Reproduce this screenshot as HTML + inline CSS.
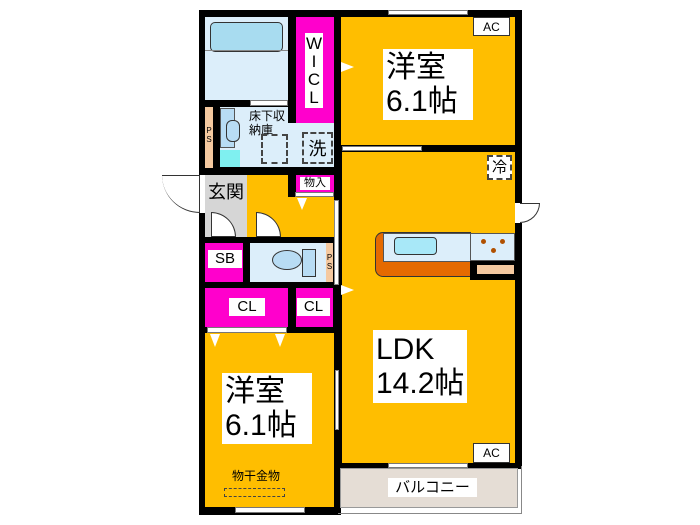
<!DOCTYPE html>
<html><head><meta charset="utf-8"><style>
body{margin:0;width:700px;height:525px;background:#fff;position:relative;overflow:hidden;font-family:"Liberation Sans","Noto Sans CJK JP",sans-serif}
div{position:absolute;box-sizing:border-box}
.o{background:#FFBE00}.p{background:#FF00CC}.b{background:#DCEEFA}.k{background:#000}
.l{background:#fff;color:#000;text-align:center}
</style></head><body>
<!-- walls base -->
<div class="k" style="left:199px;top:10px;width:323px;height:459px"></div>
<div class="k" style="left:199px;top:460px;width:142px;height:55px"></div>
<!-- bath -->
<div class="b" style="left:205px;top:17px;width:83px;height:83px"></div>
<div style="left:210px;top:22px;width:73px;height:30px;background:#a8dcf0;border:1.5px solid #333;border-radius:5px"></div>
<div style="left:205px;top:50px;width:83px;height:1px;background:#888"></div>
<div style="left:250px;top:100px;width:38px;height:6px;background:#fff;border:1px solid #777"></div>
<!-- WIC -->
<div class="p" style="left:296px;top:17px;width:38px;height:106px"></div>
<div class="l" style="left:305px;top:33px;width:18px;height:75px;font-size:17px;line-height:18px;padding-top:2px">W<br>I<br>C<br>L</div>
<!-- PS left -->
<div style="left:205px;top:107px;width:8px;height:61px;background:#f5c9a0"></div>
<div style="left:204px;top:126px;width:10px;font-size:8px;line-height:9px;text-align:center">P<br>S</div>
<!-- washroom -->
<div class="b" style="left:220px;top:107px;width:68px;height:60px"></div>
<div class="b" style="left:220px;top:123px;width:114px;height:44px"></div>
<div style="left:220px;top:108px;width:15px;height:40px;background:#b8dcf4;border:1px solid #555"></div>
<div style="left:226px;top:120px;width:14px;height:22px;background:#b8dcf4;border:1.5px solid #333;border-radius:6px"></div>
<div style="left:220px;top:150px;width:20px;height:17px;background:#7ff0f0"></div>
<div style="left:249px;top:109px;width:40px;font-size:12px;line-height:14px;color:#000">床下収<br>納庫</div>
<div style="left:261px;top:134px;width:27px;height:30px;border:2px dashed #444"></div>
<div style="left:302px;top:132px;width:31px;height:32px;border:2px dashed #444;background:#dceefa;font-size:18px;text-align:center;line-height:30px">洗</div>
<!-- genkan -->
<div style="left:205px;top:175px;width:42px;height:62px;background:#d6d6d6"></div>
<div style="left:198px;top:175px;width:7px;height:38px;background:#fff"></div>
<div style="left:162px;top:175px;width:38px;height:38px;border-top:1px solid #333;border-right:1px solid #333;border-bottom-left-radius:38px;border-left:0;background:#fff;border-bottom:1px solid #333;"></div>
<div class="l" style="left:208px;top:180px;width:36px;height:24px;background:#d6d6d6;font-size:18px;line-height:24px">玄関</div>
<div style="left:211px;top:212px;width:25px;height:25px;background:#fff;border:1px solid #333;border-top-right-radius:25px"></div>
<!-- hall -->
<div class="o" style="left:247px;top:175px;width:41px;height:62px"></div>
<div class="o" style="left:288px;top:197px;width:46px;height:40px"></div>
<div class="p" style="left:296px;top:175px;width:38px;height:17px"></div>
<div class="l" style="left:300px;top:177px;width:30px;height:13px;font-size:11px;line-height:13px">物入</div>
<div style="left:295px;top:192px;width:39px;height:5px;background:#fff;border:1px solid #777"></div>
<div style="left:297px;top:198px;width:0;height:0;border-left:5px solid transparent;border-right:5px solid transparent;border-top:12px solid #fff"></div>
<div style="left:256px;top:212px;width:25px;height:25px;background:#fff;border:1px solid #333;border-top-right-radius:25px"></div>
<div style="left:334px;top:200px;width:5px;height:85px;background:#fff;border:1px solid #888"></div>
<!-- SB, toilet -->
<div class="p" style="left:205px;top:243px;width:38px;height:39px"></div>
<div class="l" style="left:208px;top:250px;width:34px;height:18px;font-size:15px;line-height:18px">SB</div>
<div class="b" style="left:250px;top:243px;width:83px;height:39px"></div>
<div style="left:272px;top:250px;width:30px;height:20px;background:#b8dcf4;border:1.5px solid #333;border-radius:50%"></div>
<div style="left:302px;top:249px;width:14px;height:28px;background:#b8dcf4;border:1.5px solid #333"></div>
<div style="left:326px;top:243px;width:7px;height:39px;background:#f5c9a0;font-size:8px;line-height:9px;text-align:center;padding-top:10px">P<br>S</div>
<!-- CLs -->
<div class="p" style="left:205px;top:288px;width:83px;height:39px"></div>
<div class="l" style="left:229px;top:298px;width:36px;height:18px;font-size:15px;line-height:18px">CL</div>
<div class="p" style="left:296px;top:288px;width:37px;height:39px"></div>
<div class="l" style="left:297px;top:298px;width:33px;height:18px;font-size:15px;line-height:18px">CL</div>
<div style="left:207px;top:327px;width:80px;height:6px;background:#fff;border:1px solid #777"></div>
<!-- bedroom 2 -->
<div class="o" style="left:205px;top:333px;width:129px;height:174px"></div>
<div style="left:210px;top:334px;width:0;height:0;border-left:5px solid transparent;border-right:5px solid transparent;border-top:13px solid #fff"></div>
<div style="left:275px;top:334px;width:0;height:0;border-left:5px solid transparent;border-right:5px solid transparent;border-top:13px solid #fff"></div>
<div class="l" style="left:222px;top:373px;width:90px;height:71px;font-size:30px;line-height:34px;text-align:left;padding-left:3px;padding-top:2px">洋室<br>6.1帖</div>
<div class="l" style="left:228px;top:470px;width:56px;height:13px;background:#FFBE00;font-size:12px;line-height:13px">物干金物</div>
<div style="left:224px;top:488px;width:61px;height:9px;border:1.5px dashed #444"></div>
<div style="left:235px;top:507px;width:70px;height:6px;background:#fff;border:1px solid #777"></div>
<div style="left:335px;top:370px;width:4px;height:60px;background:#fff;border:1px solid #888"></div>
<!-- bedroom 1 -->
<div class="o" style="left:341px;top:17px;width:174px;height:128px"></div>
<div style="left:341px;top:62px;width:0;height:0;border-top:5px solid transparent;border-bottom:5px solid transparent;border-left:13px solid #fff"></div>
<div class="l" style="left:383px;top:49px;width:90px;height:71px;font-size:30px;line-height:34px;text-align:left;padding-left:3px;padding-top:2px">洋室<br>6.1帖</div>
<div class="l" style="left:473px;top:17px;width:37px;height:19px;border:1px solid #333;font-size:12px;line-height:18px">AC</div>
<div style="left:388px;top:10px;width:80px;height:5px;background:#fff;border:1px solid #777"></div>
<div style="left:342px;top:146px;width:80px;height:5px;background:#fff;border:1px solid #777"></div>
<!-- LDK -->
<div class="o" style="left:342px;top:152px;width:173px;height:311px"></div>
<div style="left:341px;top:285px;width:0;height:0;border-top:5px solid transparent;border-bottom:5px solid transparent;border-left:13px solid #fff"></div>
<div class="l" style="left:487px;top:155px;width:25px;height:25px;border:2px dashed #444;font-size:15px;line-height:21px">冷</div>
<div style="left:515px;top:203px;width:7px;height:20px;background:#fff"></div>
<div style="left:520px;top:203px;width:20px;height:20px;background:#fff;border:1px solid #333;border-left:0;border-bottom-right-radius:20px"></div>
<div style="left:375px;top:232px;width:96px;height:45px;background:#E56A00;border:1px solid #333;border-radius:8px 0 0 8px"></div>
<div class="b" style="left:383px;top:233px;width:88px;height:29px;border:1px solid #555"></div>
<div style="left:394px;top:237px;width:43px;height:18px;background:#a8e8f8;border:1.5px solid #333;border-radius:4px"></div>
<div class="b" style="left:470px;top:233px;width:45px;height:28px;border:1px solid #555"></div>
<div style="left:481px;top:239px;width:5px;height:5px;border-radius:50%;background:#b05000"></div>
<div style="left:500px;top:239px;width:5px;height:5px;border-radius:50%;background:#b05000"></div>
<div style="left:491px;top:248px;width:5px;height:5px;border-radius:50%;background:#b05000"></div>
<div class="k" style="left:470px;top:261px;width:45px;height:19px"></div>
<div style="left:477px;top:265px;width:37px;height:9px;background:#f5c9a0"></div>
<div class="l" style="left:373px;top:330px;width:94px;height:73px;font-size:30px;line-height:34px;text-align:left;padding-left:3px;padding-top:3px">LDK<br>14.2帖</div>
<div class="l" style="left:473px;top:443px;width:37px;height:20px;border:1px solid #333;font-size:12px;line-height:19px">AC</div>
<div style="left:388px;top:463px;width:80px;height:5px;background:#fff;border:1px solid #777"></div>
<!-- balcony -->
<div style="left:338px;top:466px;width:184px;height:48px;border-right:1.5px solid #888;border-bottom:1.5px solid #888"></div>
<div style="left:340px;top:468px;width:178px;height:40px;background:#E5DDD5;border:1.5px solid #999"></div>
<div class="l" style="left:388px;top:478px;width:89px;height:19px;font-size:15px;line-height:19px">バルコニー</div>
</body></html>
